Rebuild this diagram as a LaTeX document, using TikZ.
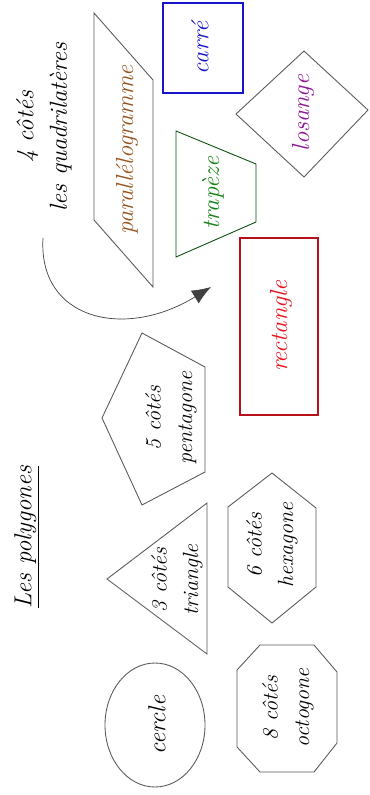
\documentclass[tikz,border=0pt]{standalone}
\usepackage{tikz}
\usetikzlibrary{arrows.meta}
\usepackage{xcolor}

\definecolor{brun}{RGB}{150,85,30}
\definecolor{violet2}{RGB}{140,20,150}
\definecolor{vert2}{RGB}{20,130,20}
\definecolor{rouge2}{RGB}{230,20,30}
\definecolor{bleu2}{RGB}{20,20,200}

\tikzset{
    forme/.style={draw=black!65, line width=0.5pt},
    lbl/.style={rotate=90, align=center, inner sep=1pt,
        font=\itshape\fontsize{14}{19}\selectfont},
    petit/.style={lbl, font=\itshape\fontsize{12.5}{18}\selectfont}
}

\begin{document}
\begin{tikzpicture}[x=0.02cm, y=-0.02cm]

    % Page
    \useasboundingbox (0,0) rectangle (369,795);

    % Titres
    \node[lbl] (titre) at (27,537) {\underline{Les polygones}};
    \node[lbl] (quadri) at (44,127) {4 côtés\\les quadrilatères};

    % Les quadrilateres
    \draw[forme] (94,13) -- (153,80) -- (153,287) -- (94,220) -- cycle;
    \node[lbl, text=brun] (parallelo) at (127,150) {parallélogramme};

    \draw[draw=bleu2, line width=0.6pt] (163,3) rectangle (243,93);
    \node[lbl, text=bleu2] (carre) at (200,48) {carré};

    \draw[forme] (304,51) -- (368,110) -- (304,177) -- (236,114) -- cycle;
    \node[lbl, text=violet2] (losange) at (303,113) {losange};

    \draw[draw=vert2!60!black, line width=0.5pt] (176,131) -- (256,164) -- (256,222) -- (176,257) -- cycle;
    \node[lbl, text=vert2] (trapeze) at (213,193) {trapèze};

    \draw[draw=rouge2!80!black, line width=0.6pt] (240,238) rectangle (318,415);
    \node[lbl, text=rouge2] (rectangle) at (281,326) {rectangle};

    % Fleche
    \coordinate (fleche-debut) at (43,238);
    \coordinate (fleche-fin) at (211,287);
    \draw[black!75, -{Latex[length=0.38cm, width=0.3cm]}] (fleche-debut) .. controls (38,320) and (125,340) .. (fleche-fin);

    % Les autres polygones
    \draw[forme] (142,333) -- (205,367) -- (205,472) -- (142,505) -- (102,418) -- cycle;
    \node[petit] (penta) at (171,418) {5 côtés\\pentagone};

    \draw[forme] (107,579) -- (207,503) -- (207,654) -- cycle;
    \node[petit] (triangle) at (177,580) {3 côtés\\triangle};

    \draw[forme] (272,473) -- (316,508) -- (316,587) -- (272,623) -- (228,587) -- (228,507) -- cycle;
    \node[petit] (hexa) at (272,545) {6 côtés\\hexagone};

    \draw[forme] (155,725) ellipse (50 and 62);
    \node[lbl] (cercle) at (157,725) {cercle};

    \draw[forme] (260,645) -- (314,645) -- (337,672) -- (337,743) -- (314,772) -- (260,772) -- (237,747) -- (237,670) -- cycle;
    \node[petit] (octo) at (288,708) {8 côtés\\octogone};

\end{tikzpicture}
\end{document}
